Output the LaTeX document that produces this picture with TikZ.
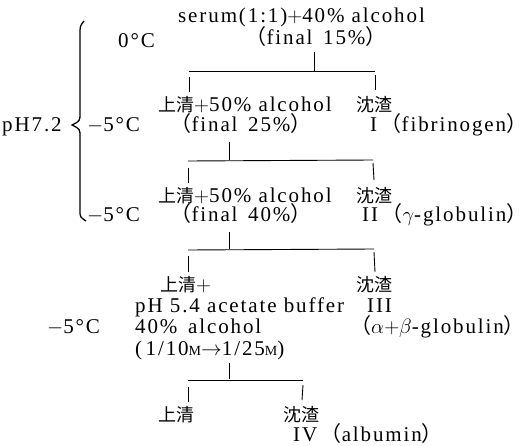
\documentclass[tikz,border=0pt]{standalone}
\usepackage{fontspec}
\setmainfont{Liberation Serif}[LetterSpace=9]
\newfontfamily\cjk{Noto Sans CJK SC}
\newcommand{\lp}{{\cjk （}}
\newcommand{\rp}{{\cjk ）}}
\newcommand{\zh}[1]{{\fontsize{18}{18}\selectfont\cjk #1}}
\newcommand{\smm}{{\fontsize{14}{14}\selectfont M}}
\begin{document}
\begin{tikzpicture}[x=1pt,y=-1pt,
  tx/.style={inner sep=0pt, anchor=base west, text height=15pt, text depth=3pt, font=\fontsize{21}{22}\selectfont},
  tc/.style={inner sep=0pt, anchor=base, text height=15pt, text depth=3pt, font=\fontsize{21}{22}\selectfont},
  ln/.style={line width=0.9pt},
  br/.style={line width=1.3pt}]
\useasboundingbox (0,0) rectangle (529,446);
% row 1
\node[tx] (s1) at (178,23) {serum(1:1)$+$40\% alcohol};
\node[tc] (f1) at (316,45) {\lp final\, 15\%\rp};
\node[tx] (t0) at (118,48) {0°C};
% row 2
\node[tx] (a2) at (158,112) {\zh{上清}$+$50\% alcohol};
\node[tc] (f2) at (241,132) {\lp final\, 25\%\rp};
\node[tx] (p2) at (356,112) {\zh{沈渣}};
\node[tx] (r2) at (370,132) {I\,\lp fibrinogen\rp};
\node[tx] (ph) at (2,132) {pH7.2};
\node[tx] (t1) at (87,132) {$-$5°C};
% row 3
\node[tx] (a3) at (158,202) {\zh{上清}$+$50\% alcohol};
\node[tc] (f3) at (241,222) {\lp final\, 40\%\rp};
\node[tx] (p3) at (356,202) {\zh{沈渣}};
\node[tx] (r3) at (362,222) {II\,\lp$\gamma$-globulin\rp};
\node[tx] (t2) at (87,222) {$-$5°C};
% row 4
\node[tx] (a4) at (160,291) {\zh{上清}$+$};
\node[tx] (b4) at (135,312) {pH 5.4 acetate buffer};
\node[tx] (c4) at (135,333) {40\%\, alcohol};
\node[tx] (d4) at (135,355) {(\,1/10\smm$\rightarrow$1/25\smm)};
\node[tx] (p4) at (356,291) {\zh{沈渣}};
\node[tx] (r4) at (367,312) {III};
\node[tx] (q4) at (350,333) {\lp$\alpha{+}\beta$-globulin\rp};
\node[tx] (t3) at (47,333) {$-$5°C};
% row 5
\node[tx] (a5) at (158,421) {\zh{上清}};
\node[tx] (p5) at (283,421) {\zh{沈渣}};
\node[tx] (r5) at (293,441) {IV\,\lp albumin\rp};
% connectors
\coordinate (u1) at (314,52); \coordinate (j1) at (314,71);
\coordinate (l1) at (189,71); \coordinate (r1) at (375,71);
\coordinate (l1b) at (189,92); \coordinate (r1b) at (375,90);
\draw[ln] (u1) -- (j1); \draw[ln] (l1) -- (r1);
\draw[ln] (l1) ++(0,6) -- (l1b); \draw[ln] (r1) ++(0,4) -- (r1b);
\coordinate (u2) at (229,142); \coordinate (j2) at (229,160);
\coordinate (l2) at (188,161); \coordinate (r2) at (373,160);
\coordinate (l2b) at (188,183); \coordinate (r2b) at (374,180);
\draw[ln] (u2) -- (j2); \draw[ln] (l2) -- (r2);
\draw[ln] (l2) ++(0,7) -- (l2b); \draw[ln] (r2) ++(0,3) -- (r2b);
\coordinate (u3) at (229,232); \coordinate (j3) at (229,249);
\coordinate (l3) at (188,250); \coordinate (r3) at (374,249);
\coordinate (l3b) at (188,272); \coordinate (r3b) at (375,272);
\draw[ln] (u3) -- (j3); \draw[ln] (l3) -- (r3);
\draw[ln] (l3) ++(0,6) -- (l3b); \draw[ln] (r3) ++(0,3) -- (r3b);
\coordinate (u4) at (229,363); \coordinate (j4) at (229,379);
\coordinate (l4) at (188,380); \coordinate (r4) at (303,380);
\coordinate (l4b) at (188,402); \coordinate (r4b) at (302,400);
\draw[ln] (u4) -- (j4); \draw[ln] (l4) -- (r4);
\draw[ln] (l4) ++(0,7) -- (l4b); \draw[ln] (r4) ++(0,5) -- (r4b);
% brace
\draw[br] (84,21) .. controls (80,26) .. (80,35) -- (80,113)
  .. controls (80,121) .. (72,125) .. controls (80,129) .. (80,137)
  -- (80,210) .. controls (80,217) .. (86,221);
\end{tikzpicture}
\end{document}
